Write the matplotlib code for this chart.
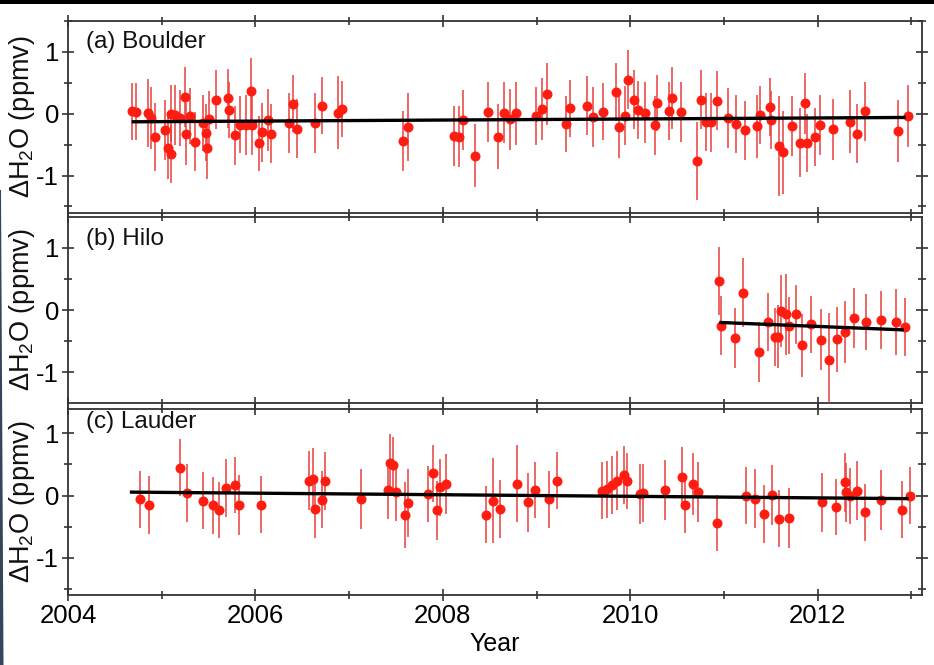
import numpy as np
import matplotlib
matplotlib.use("Agg")
import matplotlib.pyplot as plt
from matplotlib.patches import Rectangle, Polygon
from matplotlib.ticker import MultipleLocator, FixedLocator

plt.rcParams['font.family'] = ['Liberation Sans', 'DejaVu Sans']
plt.rcParams['mathtext.fontset'] = 'custom'
plt.rcParams['mathtext.rm'] = 'Liberation Sans'
plt.rcParams['mathtext.it'] = 'Liberation Sans'
plt.rcParams['axes.unicode_minus'] = False

# ---------------- data ----------------
boulder_year = [2004.68, 2004.73, 2004.85, 2004.89, 2004.93, 2005.04, 2005.07, 2005.10, 2005.10, 2005.14,
                2005.20, 2005.25, 2005.26, 2005.30, 2005.35, 2005.44, 2005.47, 2005.48, 2005.50, 2005.58,
                2005.71, 2005.72, 2005.78, 2005.84, 2005.90, 2005.95, 2005.96, 2006.04, 2006.07, 2006.13,
                2006.17, 2006.36, 2006.40, 2006.44, 2006.64, 2006.71, 2006.88, 2006.92, 2007.57, 2007.63,
                2008.12, 2008.17, 2008.22, 2008.34, 2008.48, 2008.59, 2008.65, 2008.72, 2008.78, 2008.99,
                2009.06, 2009.11, 2009.31, 2009.36, 2009.54, 2009.60, 2009.71, 2009.85, 2009.88, 2009.94,
                2009.98, 2010.04, 2010.08, 2010.16, 2010.26, 2010.28, 2010.41, 2010.45, 2010.54, 2010.71,
                2010.76, 2010.81, 2010.86, 2010.93, 2011.04, 2011.13, 2011.22, 2011.35, 2011.38, 2011.49,
                2011.50, 2011.59, 2011.63, 2011.73, 2011.81, 2011.87, 2011.89, 2011.97, 2012.03, 2012.16,
                2012.34, 2012.42, 2012.50, 2012.86, 2012.96]
boulder_val = [0.04, 0.03, 0.02, -0.07, -0.37, -0.26, -0.55, -0.65, 0.00, -0.02,
               -0.07, 0.27, -0.33, -0.04, -0.45, -0.15, -0.31, -0.56, -0.08, 0.23,
               0.25, 0.06, -0.35, -0.18, -0.18, 0.37, -0.18, -0.48, -0.30, -0.10,
               -0.32, -0.15, 0.16, -0.24, -0.15, 0.13, 0.02, 0.08, -0.44, -0.21,
               -0.36, -0.37, -0.10, -0.68, 0.03, -0.37, 0.02, -0.09, 0.01, -0.03,
               0.08, 0.32, -0.17, 0.09, 0.13, -0.05, 0.03, 0.35, -0.22, -0.03,
               0.55, 0.23, 0.06, 0.02, -0.19, 0.17, 0.04, 0.26, 0.03, -0.76,
               0.23, -0.14, -0.14, 0.21, -0.07, -0.16, -0.27, -0.20, -0.02, 0.11,
               -0.10, -0.52, -0.62, -0.20, -0.47, 0.17, -0.47, -0.37, -0.18, -0.25,
               -0.13, -0.32, 0.04, -0.28, -0.04]
boulder_err = [0.46, 0.46, 0.55, 0.50, 0.55, 0.48, 0.50, 0.47, 0.46, 0.48,
               0.45, 0.48, 0.50, 0.45, 0.48, 0.45, 0.46, 0.50, 0.45, 0.48,
               0.48, 0.45, 0.48, 0.46, 0.48, 0.53, 0.48, 0.45, 0.48, 0.50,
               0.47, 0.48, 0.46, 0.48, 0.49, 0.46, 0.59, 0.45, 0.49, 0.55,
               0.49, 0.49, 0.49, 0.51, 0.48, 0.52, 0.49, 0.49, 0.51, 0.47,
               0.50, 0.50, 0.45, 0.46, 0.48, 0.49, 0.46, 0.47, 0.50, 0.48,
               0.48, 0.48, 0.47, 0.50, 0.48, 0.45, 0.47, 0.50, 0.48, 0.63,
               0.48, 0.47, 0.48, 0.48, 0.48, 0.47, 0.47, 0.51, 0.47, 0.47,
               0.47, 0.81, 0.67, 0.49, 0.56, 0.49, 0.47, 0.47, 0.48, 0.49,
               0.51, 0.48, 0.48, 0.50, 0.50]
boulder_trend_year = [2004.68, 2012.94]
boulder_trend_val = [-0.13, -0.06]

hilo_year = [2010.95, 2010.97, 2011.12, 2011.20, 2011.37, 2011.47, 2011.54, 2011.58, 2011.61, 2011.66,
             2011.69, 2011.77, 2011.83, 2011.93, 2012.04, 2012.12, 2012.21, 2012.29, 2012.39, 2012.52,
             2012.68, 2012.84, 2012.93]
hilo_val = [0.47, -0.25, -0.45, 0.28, -0.67, -0.19, -0.43, -0.43, -0.01, -0.07,
            -0.25, -0.07, -0.57, -0.23, -0.48, -0.80, -0.47, -0.35, -0.13, -0.20,
            -0.16, -0.20, -0.27]
hilo_err = [0.55, 0.48, 0.48, 0.56, 0.48, 0.47, 0.47, 0.51, 0.58, 0.65,
            0.46, 0.47, 0.50, 0.46, 0.49, 0.75, 0.52, 0.50, 0.48, 0.45,
            0.47, 0.53, 0.47]
hilo_trend_year = [2010.95, 2012.92]
hilo_trend_val = [-0.20, -0.32]

lauder_year = [2004.77, 2004.86, 2005.20, 2005.27, 2005.44, 2005.55, 2005.61, 2005.69, 2005.78, 2005.82,
               2006.06, 2006.57, 2006.61, 2006.64, 2006.71, 2006.74, 2007.13, 2007.41, 2007.44, 2007.47,
               2007.50, 2007.60, 2007.63, 2007.84, 2007.90, 2007.94, 2007.97, 2008.03, 2008.46, 2008.53,
               2008.61, 2008.79, 2008.91, 2008.98, 2009.13, 2009.22, 2009.70, 2009.75, 2009.80, 2009.86,
               2009.93, 2009.97, 2010.10, 2010.14, 2010.37, 2010.55, 2010.58, 2010.67, 2010.72, 2010.93,
               2011.24, 2011.33, 2011.43, 2011.51, 2011.59, 2011.69, 2012.05, 2012.20, 2012.29, 2012.30,
               2012.34, 2012.42, 2012.51, 2012.68, 2012.90, 2012.99]
lauder_val = [-0.06, -0.15, 0.45, 0.04, -0.08, -0.16, -0.24, 0.12, 0.17, -0.15,
              -0.15, 0.24, 0.26, -0.22, -0.07, 0.23, -0.06, 0.09, 0.52, 0.49,
              0.05, -0.31, -0.12, 0.03, 0.36, -0.24, 0.13, 0.19, -0.31, -0.08,
              -0.22, 0.19, -0.11, 0.09, -0.06, 0.24, 0.08, 0.10, 0.17, 0.24,
              0.33, 0.24, 0.02, 0.04, 0.09, 0.30, -0.15, 0.19, 0.06, -0.44,
              0.00, -0.05, -0.30, 0.01, -0.37, -0.36, -0.11, -0.19, 0.21, 0.05,
              0.00, 0.08, -0.27, -0.07, -0.23, 0.00]
lauder_err = [0.46, 0.47, 0.46, 0.47, 0.46, 0.46, 0.45, 0.47, 0.45, 0.48,
              0.46, 0.47, 0.50, 0.47, 0.46, 0.47, 0.48, 0.46, 0.47, 0.45,
              0.46, 0.53, 0.55, 0.45, 0.46, 0.48, 0.46, 0.48, 0.46, 0.68,
              0.47, 0.62, 0.48, 0.45, 0.46, 0.46, 0.46, 0.46, 0.47, 0.47,
              0.47, 0.45, 0.48, 0.46, 0.48, 0.48, 0.46, 0.50, 0.48, 0.45,
              0.46, 0.47, 0.47, 0.48, 0.46, 0.48, 0.47, 0.45, 0.47, 0.48,
              0.45, 0.48, 0.46, 0.48, 0.46, 0.46]
lauder_trend_year = [2004.66, 2012.97]
lauder_trend_val = [0.055, -0.05]

panel_labels = ["(a) Boulder", "(b) Hilo", "(c) Lauder"]
x_major_ticks = [2004, 2006, 2008, 2010, 2012]
x_minor_ticks = [2005, 2007, 2009, 2011, 2013]
y_major_ticks = [-1, 0, 1]
y_tick_labels = ["-1", "0", "1"]

# ---------------- layout (pixels) ----------------
W, H = 934, 665
fig = plt.figure(figsize=(W / 100, H / 100), dpi=100)
fig.patch.set_facecolor("white")

left_px, right_px = 68, 921.7
panels_px = [(21, 213.3), (217.3, 402.7), (408.5, 595)]
ylims = [(-1.61, 1.50), (-1.49, 1.49), (-1.60, 1.40)]
label_y = [0.89, 0.883, 0.925]

datasets = [
    (boulder_year, boulder_val, boulder_err, boulder_trend_year, boulder_trend_val),
    (hilo_year, hilo_val, hilo_err, hilo_trend_year, hilo_trend_val),
    (lauder_year, lauder_val, lauder_err, lauder_trend_year, lauder_trend_val),
]

spine_col = "#333333"
axes = []
for i, ((top, bot), yl, data) in enumerate(zip(panels_px, ylims, datasets)):
    ax = fig.add_axes([left_px / W, 1 - bot / H, (right_px - left_px) / W, (bot - top) / H])
    axes.append(ax)
    yr, val, err, tyr, tval = data
    ax.errorbar(yr, val, yerr=err, fmt='o', color='#ff1c10', ms=7.2, mew=0,
                ecolor='#e8403c', elinewidth=1.1, capsize=3.2, capthick=1.3, zorder=3)
    ax.plot(tyr, tval, color='black', lw=2.4, zorder=4, solid_capstyle='butt')
    ax.set_xlim(2004.0, 2013.11)
    ax.set_ylim(*yl)
    ax.xaxis.set_major_locator(FixedLocator(x_major_ticks))
    ax.xaxis.set_minor_locator(FixedLocator(x_minor_ticks))
    ax.yaxis.set_major_locator(FixedLocator(y_major_ticks))
    ax.yaxis.set_minor_locator(MultipleLocator(0.5))
    ax.set_yticklabels(y_tick_labels)
    ax.tick_params(which='both', direction='inout', top=True, right=True,
                   color=spine_col, width=1.2, labelsize=18.5, pad=2)
    ax.tick_params(which='major', length=9)
    ax.tick_params(which='minor', length=6)
    for s in ax.spines.values():
        s.set_color(spine_col)
        s.set_linewidth(1.3)
    if i < 2:
        ax.tick_params(labelbottom=False)
    ax.text(0.021, label_y[i], panel_labels[i], transform=ax.transAxes,
            fontsize=17.5, ha='left', va='center', color='#111111')
    cy = 1 - (top + bot) / 2 / H
    fig.text(22 / W, cy, r'$\mathregular{\Delta H_2O}$ (ppmv)', rotation=90,
             ha='center', va='center', fontsize=19.5, color='#111111')

axes[2].set_xlabel("Year", fontsize=18, labelpad=3)

# frame decorations of the screenshot
fig.patches.append(Rectangle((0, 1 - 4 / H), 1, 4 / H, transform=fig.transFigure,
                             facecolor='black', edgecolor='none', zorder=10))
fig.patches.append(Polygon([(0, 1 - 190 / H), (1.0 / W, 1 - 190 / H), (3.5 / W, 0), (0, 0)],
                           closed=True, transform=fig.transFigure,
                           facecolor='#34465c', edgecolor='none', zorder=10))

fig.savefig("out.png", dpi=100, facecolor='white')
